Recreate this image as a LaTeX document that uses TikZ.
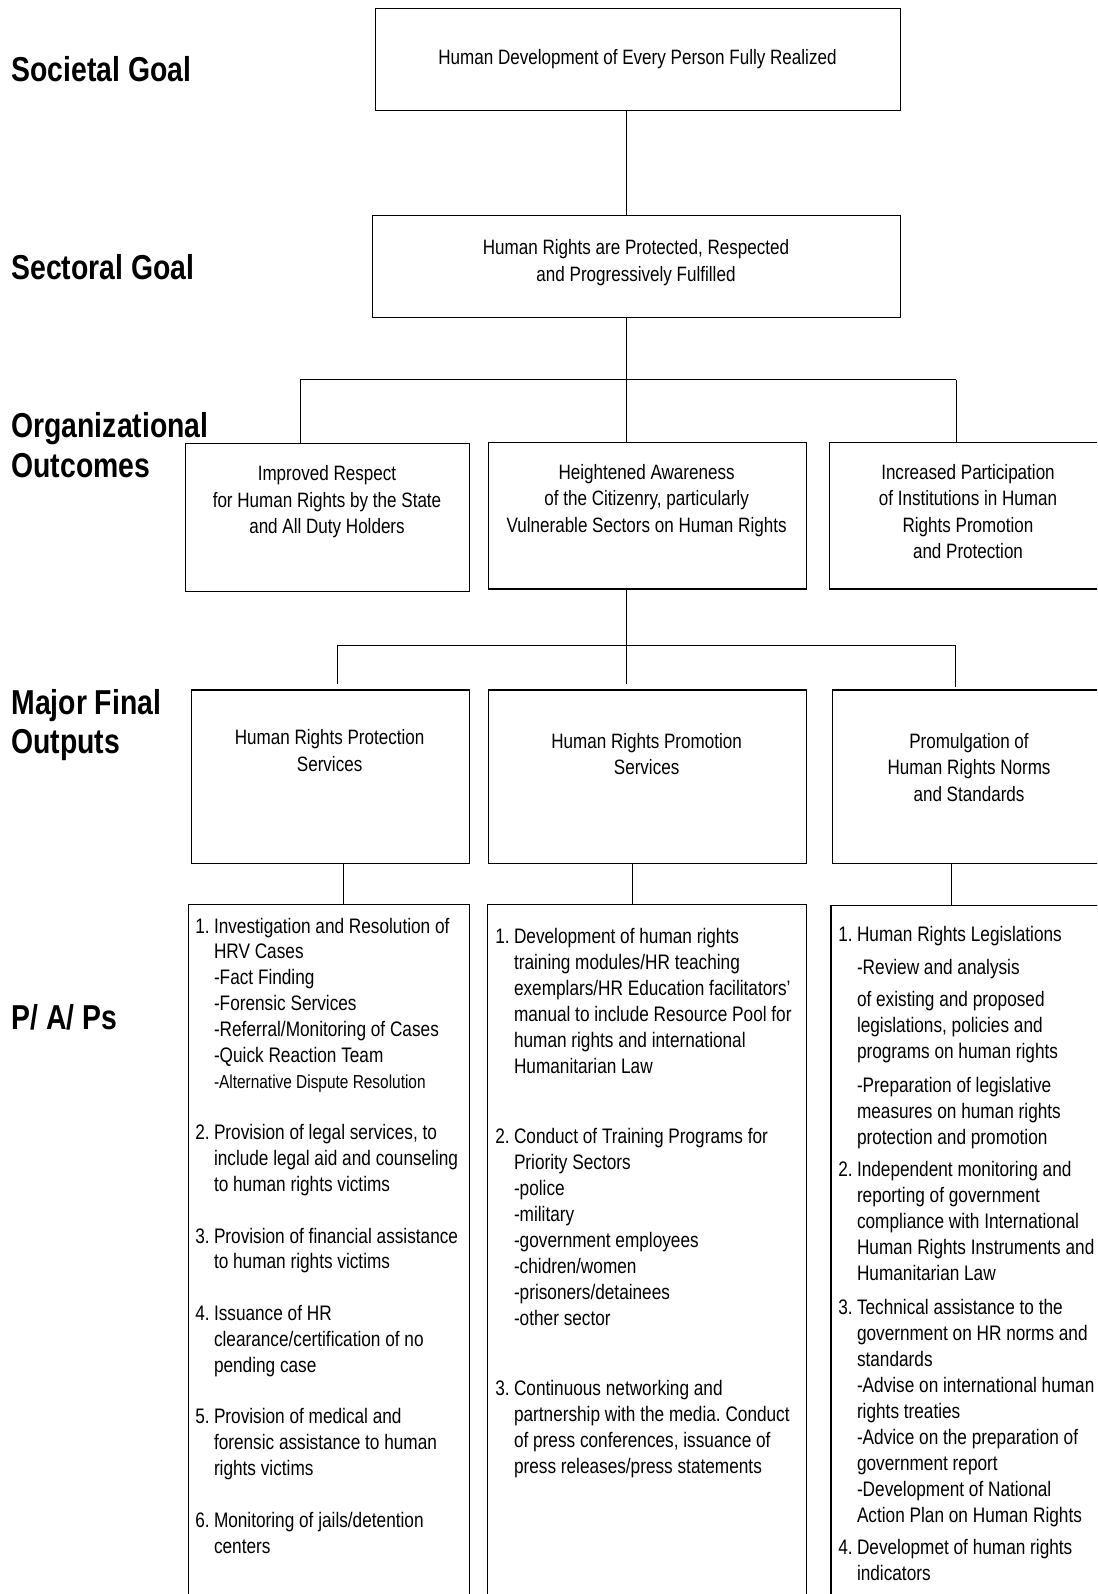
\documentclass[tikz,border=0pt]{standalone}
\usepackage{fontspec}
\setmainfont{Liberation Sans}[FakeStretch=0.82]
\frenchspacing
\newcommand{\nb}[1]{\makebox[9.3pt][l]{#1}}

\tikzset{
  box/.style 2 args={draw, line width=0.7pt, anchor=north west, inner sep=0pt,
    minimum width=#1*0.5pt, minimum height=#2*0.5pt},
  conn/.style={line width=0.5pt},
  head/.style={anchor=base, inner sep=0pt, font=\fontsize{10.4}{13.3}\selectfont},
  level/.style={anchor=base west, inner sep=0pt, font=\fontsize{17.3}{19.75}\selectfont\bfseries},
  pap/.style={anchor=base west, inner sep=0pt, font=\fontsize{10.5}{13}\selectfont},
}

\begin{document}
\begin{tikzpicture}[x=0.5pt, y=-0.5pt]
  \clip (0,0) rectangle (1097,1594);

  % levels
  \node[level] (lsoc) at (11,81.7) {Societal Goal};
  \node[level] (lsec) at (11,279) {Sectoral Goal};
  \node[level] (lorg) at (11,437.5) {\begin{tabular}[t]{@{}l@{}}Organizational\\Outcomes\end{tabular}};
  \node[level] (lmfo) at (11,714) {\begin{tabular}[t]{@{}l@{}}Major Final\\Outputs\end{tabular}};
  \node[level] (lpap) at (11,1029) {P/ A/ Ps};

  % boxes
  \node[box={525}{102}] (soc) at (375,8) {};
  \node[box={528.4}{102}] (sec) at (371.6,215) {};
  \node[box={284.3}{147.7}] (org1) at (184.7,443) {};
  \node[box={318.2}{146.6}] (org2) at (487.8,441.7) {};
  \node[box={278}{146.6}] (org3) at (829,441.7) {};
  \node[box={278}{173.4}] (mfo1) at (191,689.3) {};
  \node[box={318.2}{173.4}] (mfo2) at (487.8,689.3) {};
  \node[box={274}{173.4}] (mfo3) at (832,689.3) {};
  \node[box={281.3}{720}] (pap1) at (187.7,903.7) {};
  \node[box={319}{720}] (pap2) at (487,903.7) {};
  \node[box={276}{720}] (pap3) at (830.3,905) {};

  % box texts
  \node[head] (hsoc) at (637.5,64.2) {Human Development of Every Person Fully Realized};
  \node[head] (hsec) at (636,254.5) {\begin{tabular}[t]{@{}c@{}}Human Rights are Protected, Respected\\and Progressively Fulfilled\end{tabular}};
  \node[head] (horg1) at (327,480.5) {\begin{tabular}[t]{@{}c@{}}Improved Respect\\for Human Rights by the State\\and All Duty Holders\end{tabular}};
  \node[head] (horg2) at (646.6,479) {\begin{tabular}[t]{@{}c@{}}Heightened Awareness\\of the Citizenry, particularly\\Vulnerable Sectors on Human Rights\end{tabular}};
  \node[head] (horg3) at (968,479) {\begin{tabular}[t]{@{}c@{}}Increased Participation\\of Institutions in Human\\Rights Promotion\\and Protection\end{tabular}};
  \node[head] (hmfo1) at (329.6,744.5) {\begin{tabular}[t]{@{}c@{}}Human Rights Protection\\Services\end{tabular}};
  \node[head] (hmfo2) at (646.6,748) {\begin{tabular}[t]{@{}c@{}}Human Rights Promotion\\Services\end{tabular}};
  \node[head] (hmfo3) at (969,748) {\begin{tabular}[t]{@{}c@{}}Promulgation of\\Human Rights Norms\\and Standards\end{tabular}};

  \node[pap, font=\fontsize{10.5}{12.92}\selectfont] (tpap1) at (195,933) {\begin{tabular}[t]{@{}l@{}l@{}}
    \nb{1.} & Investigation and Resolution of\\
     & HRV Cases\\
     & -Fact Finding\\
     & -Forensic Services\\
     & -Referral/Monitoring of Cases\\
     & -Quick Reaction Team\\
     & {\fontsize{9.4}{12.92}\selectfont -Alternative Dispute Resolution}\\
     & \\
    \nb{2.} & Provision of legal services, to\\
     & include legal aid and counseling\\
     & to human rights victims\\
     & \\
    \nb{3.} & Provision of financial assistance\\
     & to human rights victims\\
     & \\
    \nb{4.} & Issuance of HR\\
     & clearance/certification of no\\
     & pending case\\
     & \\
    \nb{5.} & Provision of medical and\\
     & forensic assistance to human\\
     & rights victims\\
     & \\
    \nb{6.} & Monitoring of jails/detention\\
     & centers
  \end{tabular}};

  \node[pap] (tpap2) at (495,943) {\begin{tabular}[t]{@{}l@{}l@{}}
    \nb{1.} & Development of human rights\\
     & training modules/HR teaching\\
     & exemplars/HR Education facilitators’\\
     & manual to include Resource Pool for\\
     & human rights and international\\
     & Humanitarian Law\\[22pt]
    \nb{2.} & Conduct of Training Programs for\\
     & Priority Sectors\\
     & -police\\
     & -military\\
     & -government employees\\
     & -chidren/women\\
     & -prisoners/detainees\\
     & -other sector\\[22pt]
    \nb{3.} & Continuous networking and\\
     & partnership with the media. Conduct\\
     & of press conferences, issuance of\\
     & press releases/press statements
  \end{tabular}};

  \node[pap] (tpap3) at (838,941.2) {\begin{tabular}[t]{@{}l@{}l@{}}
    \nb{1.} & Human Rights Legislations\\[3.4pt]
     & -Review and analysis\\[3.4pt]
     & of existing and proposed\\
     & legislations, policies and\\
     & programs on human rights\\[3.6pt]
     & -Preparation of legislative\\
     & measures on human rights\\
     & protection and promotion\\[3pt]
    \nb{2.} & Independent monitoring and\\
     & reporting of government\\
     & compliance with International\\
     & Human Rights Instruments and\\
     & Humanitarian Law\\[4pt]
    \nb{3.} & Technical assistance to the\\
     & government on HR norms and\\
     & standards\\
     & -Advise on international human\\
     & rights treaties\\
     & -Advice on the preparation of\\
     & government report\\
     & -Development of National\\
     & Action Plan on Human Rights\\[3pt]
    \nb{4.} & Developmet of human rights\\
     & indicators
  \end{tabular}};

  % connectors
  \coordinate (spine) at (626,0);
  \coordinate (j1) at (300,379.5);
  \coordinate (j3) at (956,379.5);
  \coordinate (k1) at (337.5,645);
  \coordinate (k3) at (955,645);
  \coordinate (m1) at (343.6,0);
  \coordinate (m2) at (632.6,0);
  \coordinate (m3) at (951.7,0);

  \draw[conn] (soc.south -| spine) -- (sec.north -| spine);
  \draw[conn] (sec.south -| spine) -- (j1 -| spine);
  \draw[conn] (j1) -- (j3);
  \draw[conn] (j1) -- (j1 |- org1.north);
  \draw[conn] (j1 -| spine) -- (org2.north -| spine);
  \draw[conn] (j3) -- (j3 |- org3.north);

  \draw[conn] (org2.south -| spine) -- (k1 -| spine);
  \draw[conn] (k1) -- (k3);
  \draw[conn, shorten >=2.7pt] (k1) -- (k1 |- mfo1.north);
  \draw[conn, shorten >=2.7pt] (k1 -| spine) -- (mfo2.north -| spine);
  \draw[conn, shorten >=1.3pt] (k3) -- (k3 |- mfo3.north);

  \draw[conn] (mfo1.south -| m1) -- (pap1.north -| m1);
  \draw[conn] (mfo2.south -| m2) -- (pap2.north -| m2);
  \draw[conn] (mfo3.south -| m3) -- (pap3.north -| m3);
\end{tikzpicture}
\end{document}
